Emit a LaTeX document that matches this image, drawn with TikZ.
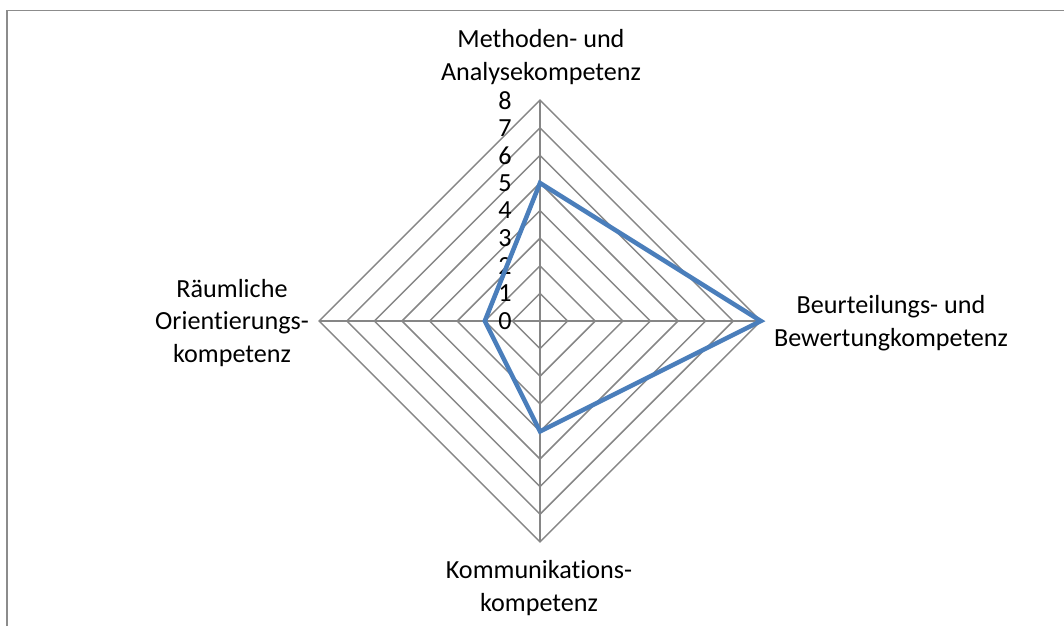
\documentclass[tikz,border=0pt]{standalone}
\usepackage{fontspec}
\setmainfont{Carlito}[Ligatures=NoCommon]
\definecolor{gridgray}{HTML}{868686}
\definecolor{framegray}{HTML}{8C8C8C}
\definecolor{seriesblue}{HTML}{4A7EBB}
\begin{document}
\begin{tikzpicture}[x=0.75pt,y=-0.75pt,
  gridline/.style={draw=gridgray,line width=1.1pt},
  series/.style={draw=seriesblue,line width=3.4pt,line join=miter},
  axislabel/.style={align=center,inner sep=0pt,font=\fontsize{19.6}{24.4}\selectfont},
  ticklabel/.style={anchor=east,inner sep=0pt,font=\fontsize{19.6}{22}\selectfont}]
\useasboundingbox (0,0) rectangle (1064,626);
% chart frame (left and top edges)
\draw[draw=framegray,line width=1.2pt] (7,626) -- (7,10.5) -- (1064,10.5);

\def\cx{540}
\def\cy{321}
\def\u{27.6}
\coordinate (O) at (\cx,\cy);
\coordinate (top) at (\cx,\cy-8*\u);
\coordinate (right) at (\cx+8*\u,\cy);
\coordinate (bottom) at (\cx,\cy+8*\u);
\coordinate (left) at (\cx-8*\u,\cy);

% concentric grid rings
\foreach \k in {1,...,8}
  \draw[gridline] (\cx,\cy-\k*\u) -- (\cx+\k*\u,\cy) -- (\cx,\cy+\k*\u) -- (\cx-\k*\u,\cy) -- cycle;
% spokes
\foreach \p in {top,right,bottom,left}
  \draw[gridline] (O) -- (\p);

% scale labels
\foreach \k in {0,...,8}
  \node[ticklabel] (t\k) at (512,\cy-\k*\u) {\k};

% data series
\coordinate (d1) at (\cx,\cy-5*\u);
\coordinate (d2) at (\cx+8*\u,\cy);
\coordinate (d3) at (\cx,\cy+4*\u);
\coordinate (d4) at (\cx-2*\u,\cy);
\draw[series] (d1) -- (d2) -- (d3) -- (d4) -- cycle;

% category labels
\node[axislabel] (lm) at (541,57) {Methoden- und\\Analysekompetenz};
\node[axislabel] (lb) at (891,323) {Beurteilungs- und\\Bewertungkompetenz};
\node[axislabel] (lk) at (539,588) {Kommunikations-\\kompetenz};
\node[axislabel] (lr) at (232,323) {Räumliche\\Orientierungs-\\kompetenz};
\end{tikzpicture}
\end{document}
